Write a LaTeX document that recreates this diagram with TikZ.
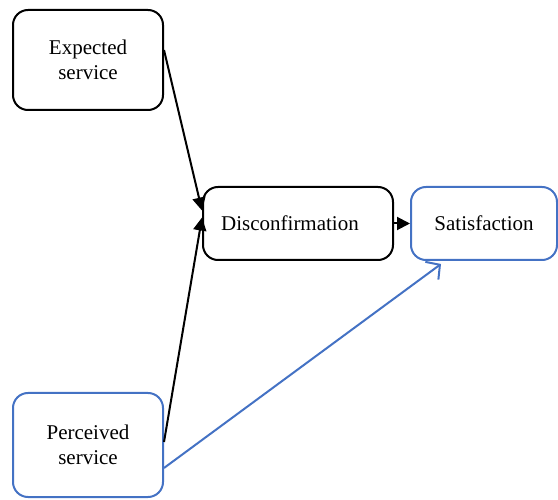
\documentclass[tikz,border=0pt]{standalone}
\usepackage{fontspec}
\setmainfont{Liberation Serif}
\usetikzlibrary{arrows.meta,calc}
\definecolor{boxblue}{HTML}{4472C4}
\begin{document}
\begin{tikzpicture}[x=1pt,y=-1pt,
  box/.style={draw, line width=2pt, rounded corners=15pt, align=center,
    font=\fontsize{21}{25}\selectfont, inner sep=0pt},
  bluebox/.style={box, draw=boxblue},
  blackarrow/.style={line width=2pt, -{Triangle[length=13pt,width=13pt]}},
  bluearrow/.style={line width=2pt, draw=boxblue, -{Straight Barb[length=10pt,width=22pt,line width=2pt]}}]
\useasboundingbox (0,0) rectangle (558,500);
\node[box, minimum width=150pt, minimum height=100pt] (exp) at (88,60) {Expected\\service};
\node[bluebox, minimum width=150pt, minimum height=104pt] (perc) at (88,445) {Perceived\\service};
\node[box, minimum width=190pt, minimum height=73pt] (disc) at (298,223.5) {Disconfirmation\hspace*{16pt}};
\node[bluebox, minimum width=146pt, minimum height=73pt] (sat) at (484,223.5) {Satisfaction};
\draw[blackarrow] ($(exp.east)+(0,-10)$) -- ($(disc.west)+(0,-13)$);
\draw[blackarrow] ($(perc.east)+(0,-3)$) -- ($(disc.west)+(0,-6)$);
\draw[blackarrow] (disc.east) -- (sat.west);
\draw[bluearrow] ($(perc.east)+(0,23)$) -- ($(sat.south)+(-43,3)$);
\end{tikzpicture}
\end{document}
